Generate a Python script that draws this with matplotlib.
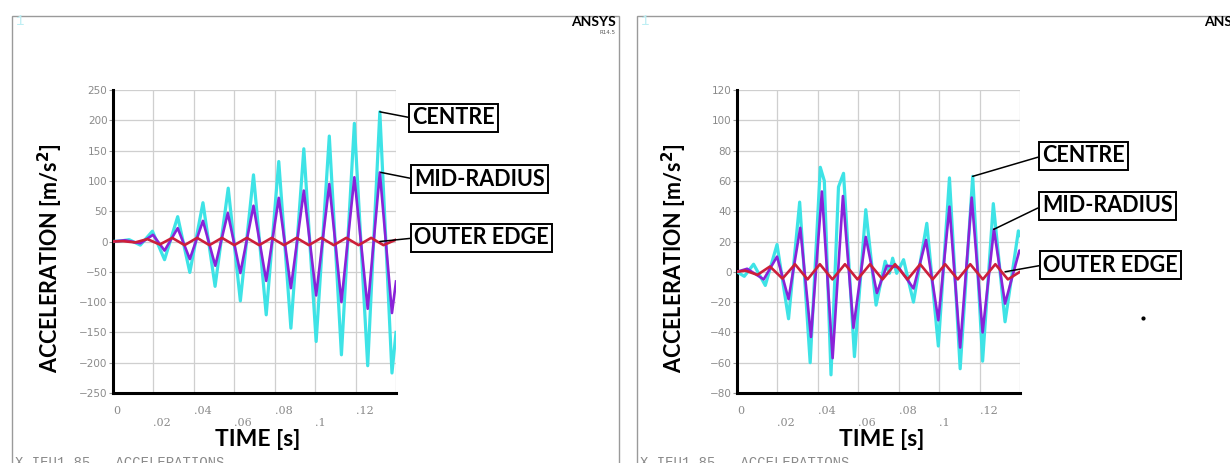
import matplotlib.pyplot as plt
from matplotlib.patches import Rectangle
from matplotlib.lines import Line2D

# ---- data (time in s, acceleration in m/s^2) ----
# left plot
t_l_centre = [0, 0.004, 0.008, 0.0135, 0.0195, 0.0255, 0.032, 0.038, 0.0445, 0.0505,
              0.057, 0.063, 0.0695, 0.0758, 0.082, 0.088, 0.0944, 0.1005, 0.107, 0.113,
              0.1194, 0.126, 0.132, 0.138, 0.14]
a_l_centre = [0, 1, 3, -6, 17, -30, 41, -51, 64, -74,
              88, -98, 110, -121, 132, -143, 153, -165, 174, -187,
              195, -205, 214, -217, -150]

t_l_mid = [0, 0.006, 0.0135, 0.0198, 0.0255, 0.032, 0.038, 0.0445, 0.0506, 0.0568,
           0.063, 0.0695, 0.0758, 0.082, 0.088, 0.0944, 0.1005, 0.107, 0.113, 0.1194,
           0.126, 0.132, 0.138, 0.14]
a_l_mid = [0, 2, -3, 11, -15, 22, -29, 34, -40, 47,
           -52, 59, -65, 72, -77, 84, -89, 95, -100, 106,
           -111, 114, -118, -66]

t_l_outer = [0, 0.005, 0.011, 0.017, 0.0231, 0.0293, 0.0354, 0.0416, 0.0477, 0.0539,
             0.060, 0.0662, 0.0723, 0.0785, 0.0846, 0.0908, 0.0969, 0.1031, 0.1092, 0.1154,
             0.1215, 0.1277, 0.1338, 0.14]
a_l_outer = [0, 0.5, -1.5, 4, -5, 6, -6, 6, -6, 6,
             -6, 6, -6, 6, -6, 6, -6, 6, -6, 6,
             -6, 6, -6, 3]

# right plot
t_r_centre = [0, 0.0036, 0.0082, 0.014, 0.0198, 0.0255, 0.031, 0.0362, 0.0412, 0.0432,
              0.0465, 0.0502, 0.0527, 0.0581, 0.0637, 0.0688, 0.0733, 0.0754, 0.077, 0.079,
              0.0824, 0.0873, 0.0939, 0.0996, 0.1051, 0.1104, 0.1166, 0.1215, 0.1268, 0.1326,
              0.1392, 0.14]
a_r_centre = [0, -3, 5, -9, 18, -31, 46, -60, 69, 60,
              -68, 56, 65, -56, 41, -22, 7, -1, 9, -1,
              8, -20, 32, -49, 62, -64, 63, -59, 45, -33,
              27, 24]

t_r_mid = [0, 0.005, 0.0132, 0.0198, 0.0255, 0.0313, 0.0366, 0.042, 0.0473, 0.0524,
           0.0576, 0.0637, 0.0692, 0.0741, 0.0799, 0.0873, 0.0935, 0.0996, 0.1051, 0.1104,
           0.1161, 0.1215, 0.1271, 0.1326, 0.1397, 0.14]
a_r_mid = [0, 2, -5, 10, -18, 29, -43, 53, -57, 50,
           -37, 23, -14, 4, 3, -11, 21, -32, 43, -50,
           49, -40, 28, -21, 14, 14]

t_r_outer = [0, 0.004, 0.0101, 0.0163, 0.0225, 0.0287, 0.0349, 0.041, 0.0472, 0.0534,
             0.0596, 0.0658, 0.072, 0.0782, 0.0844, 0.0906, 0.0968, 0.103, 0.1092, 0.1154,
             0.1216, 0.1278, 0.134, 0.14]
a_r_outer = [0, 0.8, -2, 3.5, -4.5, 5, -5, 5, -5, 5,
             -5, 5, -5, 5, -5, 5, -5, 5, -5, 5,
             -5, 5, -5, 0]

yticks_l = [-250, -200, -150, -100, -50, 0, 50, 100, 150, 200, 250]
yticks_r = [-80, -60, -40, -20, 0, 20, 40, 60, 80, 100, 120]
xticks = [0, 0.02, 0.04, 0.06, 0.08, 0.10, 0.12, 0.14]
xlabels = ['0', '.02', '.04', '.06', '.08', '.1', '.12', '']
names = ['CENTRE', 'MID-RADIUS', 'OUTER EDGE']

CYAN = '#3ee3e6'
PURPLE = '#8a22d8'
RED = '#cc1f3a'

W, H = 1230, 463
fig = plt.figure(figsize=(W / 100, H / 100), dpi=100)


def px(x0, y0, x1, y1):
    # pixel box (from top-left) -> figure fraction rect
    return [x0 / W, 1 - y1 / H, (x1 - x0) / W, (y1 - y0) / H]


def panel(x0, frame_x0, frame_x1, series, yticks, notes):
    ax = fig.add_axes(px(x0, 90, x0 + 283, 393))
    for (t, a), c, lw in zip(series, [CYAN, PURPLE, RED], [2.3, 1.9, 1.9]):
        ax.plot(t, a, color=c, lw=lw, solid_joinstyle='round', zorder=3)
    ax.set_xlim(0, 0.14)
    ax.set_ylim(yticks[0], yticks[-1])
    ax.set_yticks(yticks)
    ax.set_xticks(xticks)
    ax.set_xticklabels(xlabels)
    ax.grid(True, color='#cfcfcf', lw=0.9)
    ax.set_axisbelow(True)
    for s in ['top', 'right']:
        ax.spines[s].set_visible(False)
    for s in ['left', 'bottom']:
        ax.spines[s].set_linewidth(2.2)
        ax.spines[s].set_color('black')
    ax.tick_params(axis='y', length=3, width=0.8, color='#999999', labelsize=7.5,
                   labelcolor='#8a8a8a', pad=1)
    ax.tick_params(axis='x', length=0, labelsize=8, labelcolor='#8a8a8a')
    for i, tk in enumerate(ax.xaxis.get_major_ticks()):
        tk.set_pad(9 if i % 2 == 0 else 18)
        tk.label1.set_horizontalalignment('left')
        tk.label1.set_fontfamily('DejaVu Serif')
    for lab in ax.get_yticklabels():
        lab.set_fontfamily('DejaVu Sans')

    # leader lines with boxed names
    for name, (xy, bx, by) in zip(names, notes):
        ax.annotate(name, xy=xy, xycoords='data', xytext=(bx + 4, H - by),
                    textcoords='figure pixels', ha='left', va='center',
                    fontsize=15.5, fontweight='bold', family='Lato',
                    bbox=dict(boxstyle='square,pad=0.16', fc='white', ec='black', lw=1.4),
                    arrowprops=dict(arrowstyle='-', color='black', lw=1.1,
                                    relpos=(0, 0.5), shrinkA=0, shrinkB=0),
                    annotation_clip=False, zorder=5)

    # frame and decorations
    fig.add_artist(Rectangle((frame_x0 / W, -0.05), (frame_x1 - frame_x0) / W,
                             1.05 - 16 / H, transform=fig.transFigure,
                             fill=False, ec='#9a9a9a', lw=1.0))
    fig.text((frame_x0 + 4) / W, 1 - 21 / H, '1', color='#bdeef3', fontsize=10,
             family='Liberation Mono', va='center')
    fig.text((frame_x1 - 3) / W, 1 - 22 / H, 'ANSYS', fontsize=10, fontweight='bold',
             ha='right', va='center', family='Lato')
    fig.text((frame_x1 - 3) / W, 1 - 32 / H, 'R14.5', fontsize=4, color='#555555',
             ha='right', va='center')
    fig.text((x0 - 63) / W, 1 - 258 / H, r'ACCELERATION [m/s$^\mathbf{2}$]',
             rotation=90, fontsize=15.5, fontweight='bold', family='Lato',
             ha='center', va='center')
    fig.text((x0 + 145) / W, 1 - 440 / H, 'TIME [s]', fontsize=16.5,
             fontweight='bold', family='Lato', ha='center', va='center')
    fig.text((frame_x0 + 3) / W, 1 - 456 / H, 'X-IEU1 85 - ACCELERATIONS',
             fontsize=10, color='#8a8a8a', family='Liberation Mono', va='top')
    return ax


panel(113, 12, 619,
      [(t_l_centre, a_l_centre), (t_l_mid, a_l_mid), (t_l_outer, a_l_outer)],
      yticks_l,
      [((0.132, 214), 408, 118), ((0.1325, 114), 410, 179), ((0.132, 0), 410, 238)])

panel(737, 637, 1232 + 20,
      [(t_r_centre, a_r_centre), (t_r_mid, a_r_mid), (t_r_outer, a_r_outer)],
      yticks_r,
      [((0.1166, 63), 1038, 156), ((0.127, 28), 1038, 206), ((0.1326, 0), 1039, 265)])

# stray dot in the right-hand picture
fig.add_artist(Line2D([1143 / W], [1 - 318 / H], marker='o', ms=2, color='black',
                      transform=fig.transFigure))

fig.savefig('out.png', dpi=100)
